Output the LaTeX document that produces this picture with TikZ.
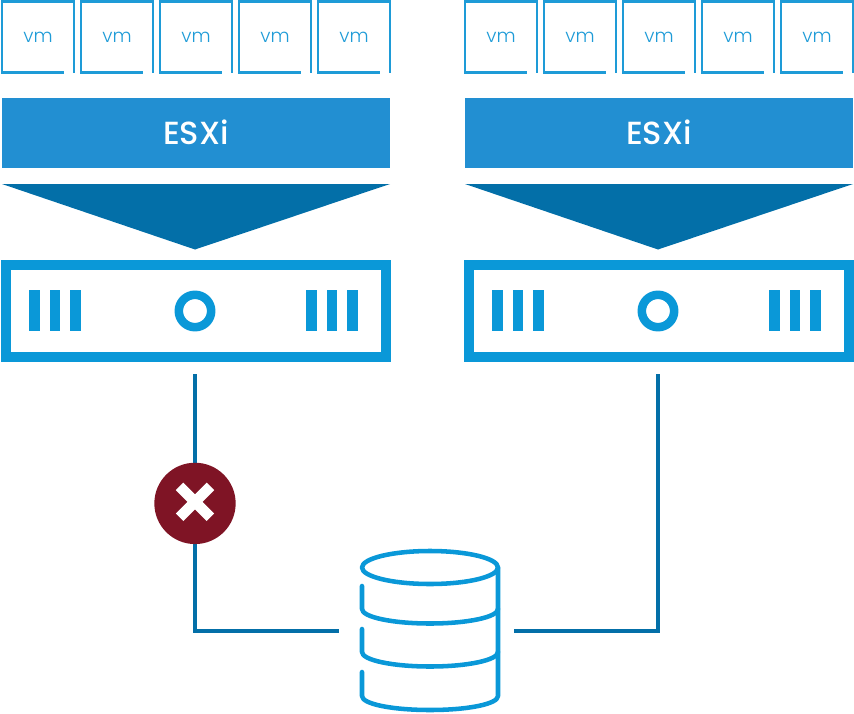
\documentclass[tikz,border=0pt]{standalone}
\usepackage{fontspec}
\setmainfont{Poppins}
\newfontfamily\vmfont{Poppins Light}
\newfontfamily\esxifont{Poppins Medium}
\usetikzlibrary{positioning}
\definecolor{vmBlue}{HTML}{1E9BD7}
\definecolor{esxBlue}{HTML}{228FD2}
\definecolor{deepBlue}{HTML}{036FA8}
\definecolor{hostBlue}{HTML}{0A98D8}
\definecolor{failRed}{HTML}{7F1425}
\tikzstyle{vm} = [rectangle, text centered, inner sep = 0, outer sep = 0, minimum width = 54pt, minimum height = 53.25pt, text = vmBlue, font = \vmfont\fontsize{14}{16}\selectfont]
\tikzstyle{esxi} = [rectangle, text centered, inner sep = 0, outer sep = 0, minimum width = 291.5pt, minimum height = 52.5pt, fill = esxBlue, text = white, font = \esxifont\fontsize{24}{26}\selectfont]
\tikzstyle{host} = [rectangle, inner sep = 0, minimum width = 285pt, minimum height = 69pt, draw = hostBlue, line width = 7.5pt]
\tikzstyle{fail} = [circle, inner sep = 0, minimum size = 61pt, fill = failRed]
\tikzstyle{vmedge} = [draw = vmBlue, line width = 1.7pt]
\tikzstyle{link} = [draw = deepBlue, line width = 3pt]
\tikzstyle{disk} = [draw = hostBlue, line width = 3.4pt, line cap = round, line join = round]

\begin{document}
\begin{tikzpicture}[x = 0.75pt, y = -0.75pt, node distance = 59.25pt]
    \useasboundingbox (0,0) rectangle (854,714);

    % virtual machines
    \node (vmA) at (38,37) [vm] {vm};
    \node (vmB) [vm, right of = vmA] {vm};
    \node (vmC) [vm, right of = vmB] {vm};
    \node (vmD) [vm, right of = vmC] {vm};
    \node (vmE) [vm, right of = vmD] {vm};
    \node (vmF) at (501,37) [vm] {vm};
    \node (vmG) [vm, right of = vmF] {vm};
    \node (vmH) [vm, right of = vmG] {vm};
    \node (vmI) [vm, right of = vmH] {vm};
    \node (vmJ) [vm, right of = vmI] {vm};
    \foreach \vmName in {vmA, vmB, vmC, vmD, vmE, vmF, vmG, vmH, vmI, vmJ}
        \draw [vmedge] (\vmName.south east) -- (\vmName.north east) -- (\vmName.north west) -- (\vmName.south west) -- ([xshift = -7.5pt]\vmName.south east);

    % hypervisors and hosts
    \node (esxiLeft) at (196,133) [esxi] {\raisebox{0.75pt}{ESXi}};
    \node (esxiRight) at (659,133) [esxi] {\raisebox{0.75pt}{ESXi}};
    \node (hostLeft) at (196,311) [host] {};
    \node (hostRight) at (659,311) [host] {};
    \foreach \hostX in {0,463} {
        \fill [deepBlue] (\hostX+2,184) -- (\hostX+390,184) -- (\hostX+195,249.5) -- cycle;
        \foreach \barX in {29,49.5,70,306,326.5,347}
            \fill [hostBlue] (\hostX+\barX,290) rectangle (\hostX+\barX+10.5,331);
        \draw [hostBlue, line width = 6.4pt] (\hostX+195,311) circle (16.2);
    }

    % storage
    \coordinate (storageLeft) at (339,631);
    \coordinate (storageRight) at (514,631);
    \draw [disk] (430,567.5) ellipse (68 and 16.5);
    \draw [disk] (498,567.5) -- (498,696) .. controls (498,704) and (468,710) .. (430,710) .. controls (392,710) and (362,704) .. (362,696) -- (362,672);
    \draw [disk] (498,609) .. controls (498,617) and (468,623.5) .. (430,623.5) .. controls (392,623.5) and (362,617) .. (362,609) -- (362,586);
    \draw [disk] (498,652) .. controls (498,660) and (468,666.5) .. (430,666.5) .. controls (392,666.5) and (362,660) .. (362,652) -- (362,629);

    % connectors
    \draw [link, shorten <= 9pt] ([xshift = -0.75pt]hostLeft.south) |- (storageLeft);
    \draw [link, shorten <= 9pt] ([xshift = -0.75pt]hostRight.south) |- (storageRight);

    % failed path
    \node (failMark) at (195,503.4) [fail] {};
    \draw [white, line width = 8pt] ([xshift = -11.6pt, yshift = 12.8pt]failMark.center) -- ([xshift = 11.6pt, yshift = -10.4pt]failMark.center);
    \draw [white, line width = 8pt] ([xshift = -11.6pt, yshift = -10.4pt]failMark.center) -- ([xshift = 11.6pt, yshift = 12.8pt]failMark.center);
\end{tikzpicture}
\end{document}
